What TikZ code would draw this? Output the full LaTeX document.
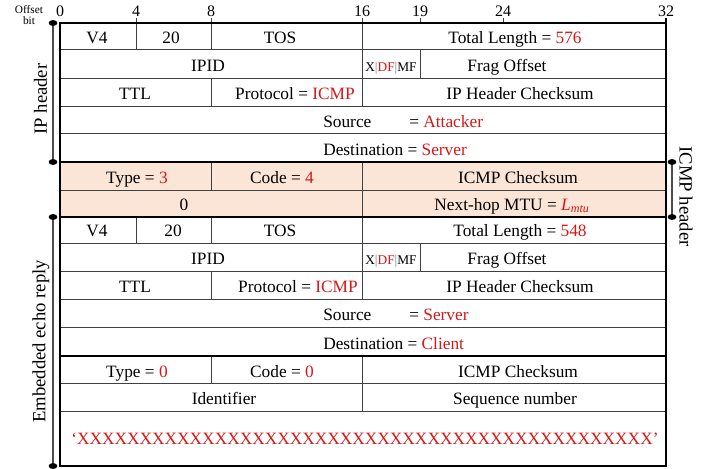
\documentclass[tikz,border=0pt]{standalone}
\usepackage{fontspec}
\setmainfont{Liberation Serif}
\definecolor{hl}{RGB}{214,24,24}
\definecolor{icmpfill}{RGB}{251,229,214}
\newcommand{\rv}[1]{\textcolor{hl}{#1}}
\newcommand{\flags}{{\fontsize{10}{12}\selectfont X\textcolor{black!50}{|}\rv{DF}\textcolor{black!50}{|}MF}}
\tikzset{
  rule/.style={line width=0.6pt, draw=black!75},
  frame/.style={line width=1.5pt, draw=black},
  cell/.style={anchor=base, inner sep=0pt},
  bitno/.style={anchor=base, inner sep=0pt, font=\fontsize{12}{14}\selectfont},
  bracket/.style={line width=0.9pt, draw=black!70},
  side/.style={font=\fontsize{14}{16}\selectfont, inner sep=0pt}
}
\begin{document}
\begin{tikzpicture}[x=0.75pt, y=-0.75pt, font=\fontsize{13}{15}\selectfont]
\useasboundingbox (0,0) rectangle (706,468);
% ICMP header band
\fill[icmpfill] (60,162) rectangle (666,217);
% inner rules
\foreach \y in {49.5,78,106,133.5,190,243,271,299,327,383.5,411}
  \draw[rule] (60,\y) -- (666,\y);
\foreach \x/\ya/\yb in {136/23/49.5, 211/23/49.5, 362/23/49.5, 362/49.5/78, 420/49.5/78,
    211/78/106, 362/78/106, 211/162/190, 362/162/217, 136/217/243, 211/217/243,
    362/217/243, 362/243/271, 420/243/271, 211/271/299, 362/271/299,
    211/356/383.5, 362/356/411}
  \draw[rule] (\x,\ya) -- (\x,\yb);
% bit offsets
\node (offs) [inner sep=0pt, anchor=base, font=\fontsize{8.5}{9}\selectfont] at (29,13.5) {Offset};
\node (bit) [inner sep=0pt, anchor=base, font=\fontsize{8.5}{9}\selectfont] at (29,24) {bit};
\foreach \x/\b in {60/0,136/4,211/8,362/16,420/19,503/24,666/32}
  \node (b\b) [bitno] at (\x,16.5) {\b};
\foreach \x in {136,211,362,420,503}
  \draw[rule] (\x,17.5) -- (\x,23);
\draw[frame] (666,17.5) -- (666,23);
% frame and section rules
\draw[frame] (60,23) rectangle (666,466);
\foreach \y in {162,217,356}
  \draw[frame] (60,\y) -- (666,\y);
% outer IP header
\node (v4a)   [cell] at (97,43)   {V4};
\node (ihla)  [cell] at (171,43)  {20};
\node (tosa)  [cell] at (280,43)  {TOS};
\node (lena)  [cell] at (515,43)  {Total Length = \rv{576}};
\node (ipida) [cell] at (208,71.5) {IPID};
\node (flga)  [cell] at (391,71.5) {\flags};
\node (fraga) [cell] at (507,71.5) {Frag Offset};
\node (ttla)  [cell] at (135,99.5) {TTL};
\node (prota) [cell] at (295,99.5) {Protocol = \rv{ICMP}};
\node (csa)   [cell] at (520,99.5) {IP Header Checksum};
\node (srca)  [cell, anchor=base west] at (323,127) {Source};
\node (srcva) [cell, anchor=base west] at (409,127) {= \rv{Attacker}};
\node (dsta)  [cell, anchor=base west] at (323,155) {Destination = \rv{Server}};
% ICMP header
\node (type)  [cell] at (137,183.5) {Type = \rv{3}};
\node (code)  [cell] at (282,183.5) {Code = \rv{4}};
\node (icsum) [cell] at (518,183.5) {ICMP Checksum};
\node (zero)  [cell] at (184,210.5) {0};
\node (mtu)   [cell] at (512,210.5) {Next-hop MTU = \rv{\itshape L\textsubscript{mtu}}};
% embedded IP header
\node (v4b)   [cell] at (97,236.5)  {V4};
\node (ihlb)  [cell] at (173,236.5) {20};
\node (tosb)  [cell] at (280,236.5) {TOS};
\node (lenb)  [cell] at (520,236.5) {Total Length = \rv{548}};
\node (ipidb) [cell] at (208,264.5) {IPID};
\node (flgb)  [cell] at (391,264.5) {\flags};
\node (fragb) [cell] at (507,264.5) {Frag Offset};
\node (ttlb)  [cell] at (135,292.5) {TTL};
\node (protb) [cell] at (298,292.5) {Protocol = \rv{ICMP}};
\node (csb)   [cell] at (520,292.5) {IP Header Checksum};
\node (srcb)  [cell, anchor=base west] at (323,320.5) {Source};
\node (srcvb) [cell, anchor=base west] at (409,320.5) {= \rv{Server}};
\node (dstb)  [cell, anchor=base west] at (323,349.5) {Destination = \rv{Client}};
% embedded echo reply
\node (etype) [cell] at (137,377) {Type = \rv{0}};
\node (ecode) [cell] at (282,377) {Code = \rv{0}};
\node (ecsum) [cell] at (518,377) {ICMP Checksum};
\node (ident) [cell] at (224,404.5) {Identifier};
\node (seqno) [cell] at (515,404.5) {Sequence number};
\node (data)  [cell] at (365,444) {\rv{‘XXXXXXXXXXXXXXXXXXXXXXXXXXXXXXXXXXXXXXXXXXXXXX’}};
% side brackets
\coordinate (ipT) at (53,23);
\coordinate (ipB) at (53,162);
\coordinate (embT) at (53,217);
\coordinate (embB) at (53,466);
\coordinate (icT) at (672,162);
\coordinate (icB) at (672,217);
\draw[bracket] (ipT) -- (ipB);
\draw[bracket] (embT) -- (embB);
\draw[bracket] (icT) -- (icB);
\foreach \c in {ipT,ipB,embT,embB,icT,icB}
  \fill (\c) ellipse [x radius=3.3pt, y radius=2.2pt];
\node (iphdr)  [side, rotate=90]  at (40.5,99)   {IP header};
\node (embhdr) [side, rotate=90]  at (41,341.5)  {Embedded echo reply};
\node (icmphdr)[side, rotate=-90] at (686,196.5) {ICMP header};
\end{tikzpicture}
\end{document}
